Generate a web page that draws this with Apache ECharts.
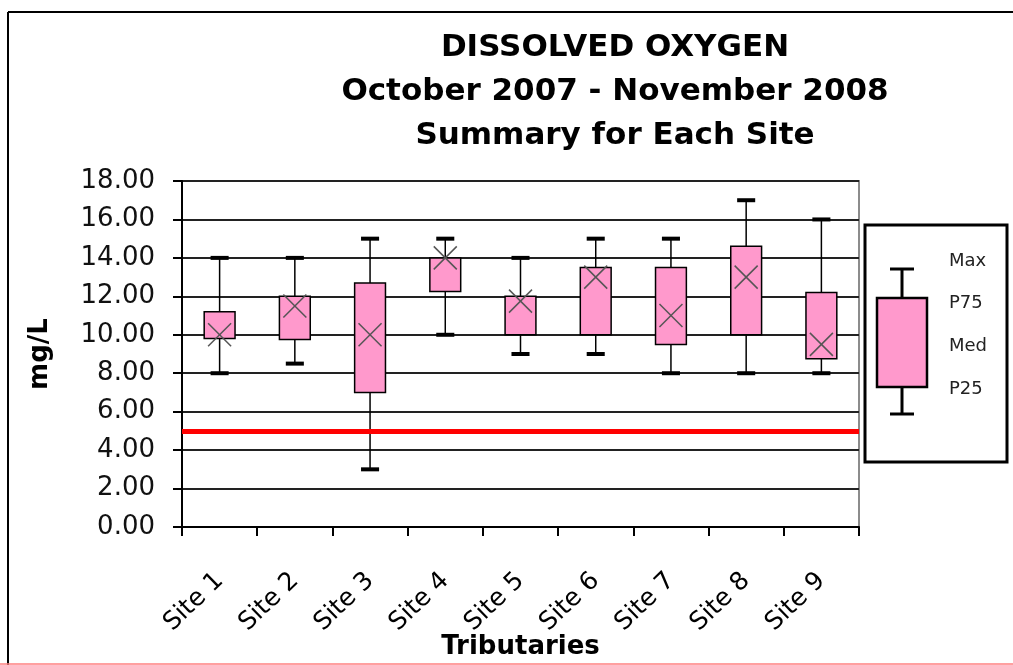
<!DOCTYPE html>
<html>
<head>
<meta charset="utf-8">
<title>Dissolved Oxygen</title>
<script src="https://cdn.jsdelivr.net/npm/echarts@6/dist/echarts.min.js"></script>
<style>
  html, body { margin: 0; padding: 0; background: #fff; }
  #chart { width: 1013px; height: 665px; }
</style>
</head>
<body>
<div id="chart"></div>
<script>
// box plot summary per site, mg/L
const sites = ['Site 1', 'Site 2', 'Site 3', 'Site 4', 'Site 5', 'Site 6', 'Site 7', 'Site 8', 'Site 9'];
const minVals = [8, 8.5, 3, 10, 9, 9, 8, 8, 8];
const p25Vals = [9.8, 9.75, 7, 12.25, 10, 10, 9.5, 10, 8.75];
const medVals = [10, 11.5, 10, 14, 11.75, 13, 11, 13, 9.5];
const p75Vals = [11.2, 12, 12.7, 14, 12, 13.5, 13.5, 14.6, 12.2];
const maxVals = [14, 14, 15, 15, 14, 15, 15, 17, 16];
const standardLine = 5;
const legendLabels = ['Max', 'P75', 'Med', 'P25'];

const FONT = '"DejaVu Sans", "Liberation Sans", Arial, sans-serif';
const PINK = '#ff99cc';

const boxData = sites.map((s, i) => [i, minVals[i], p25Vals[i], medVals[i], p75Vals[i], maxVals[i]]);

function renderBox(params, api) {
  const i = api.value(0);
  const xc = api.coord([i, 0])[0];
  const yMin = api.coord([i, api.value(1)])[1];
  const yQ1 = api.coord([i, api.value(2)])[1];
  const yMed = api.coord([i, api.value(3)])[1];
  const yQ3 = api.coord([i, api.value(4)])[1];
  const yMax = api.coord([i, api.value(5)])[1];
  const catW = api.size([1, 0])[0];
  const bw = catW * 0.41;
  const cw = catW * 0.24;
  const xs = 11.5;
  return {
    type: 'group',
    children: [
      { type: 'line', shape: { x1: xc, y1: yMax, x2: xc, y2: yMin }, style: { stroke: '#000', lineWidth: 1.5 } },
      { type: 'line', shape: { x1: xc - cw / 2, y1: yMax, x2: xc + cw / 2, y2: yMax }, style: { stroke: '#000', lineWidth: 4 } },
      { type: 'line', shape: { x1: xc - cw / 2, y1: yMin, x2: xc + cw / 2, y2: yMin }, style: { stroke: '#000', lineWidth: 4 } },
      { type: 'rect', shape: { x: xc - bw / 2, y: yQ3, width: bw, height: yQ1 - yQ3 }, style: { fill: PINK, stroke: '#000', lineWidth: 1.5 } },
      { type: 'line', shape: { x1: xc - xs, y1: yMed - xs, x2: xc + xs, y2: yMed + xs }, style: { stroke: '#555', lineWidth: 1.5 } },
      { type: 'line', shape: { x1: xc - xs, y1: yMed + xs, x2: xc + xs, y2: yMed - xs }, style: { stroke: '#555', lineWidth: 1.5 } }
    ]
  };
}

const chart = echarts.init(document.getElementById('chart'));
chart.setOption({
  backgroundColor: '#fff',
  animation: false,
  title: {
    text: 'DISSOLVED OXYGEN\nOctober 2007 - November 2008\nSummary for Each Site',
    left: 610,
    top: 21,
    textAlign: 'center',
    textStyle: { fontFamily: FONT, fontSize: 31, fontWeight: 'bold', color: '#000', lineHeight: 44 }
  },
  grid: {
    left: 182, right: 154, top: 181, bottom: 138,
    outerBoundsMode: 'none',
    show: true, borderColor: '#8c8c8c', borderWidth: 2, backgroundColor: '#fff'
  },
  xAxis: {
    type: 'category',
    data: sites,
    name: 'Tributaries',
    nameLocation: 'middle',
    nameGap: 107,
    nameMoveOverlap: false,
    nameTextStyle: { fontFamily: FONT, fontSize: 26, fontWeight: 'bold', color: '#000' },
    axisLine: { lineStyle: { color: '#000', width: 2 } },
    axisTick: { show: true, length: 9, lineStyle: { color: '#000', width: 2 } },
    axisLabel: { rotate: 44, margin: 50, fontFamily: FONT, fontSize: 25, color: '#000' },
    splitLine: { show: false }
  },
  yAxis: {
    type: 'value',
    min: 0,
    max: 18,
    interval: 2,
    name: 'mg/L',
    nameLocation: 'middle',
    nameRotate: 90,
    nameGap: 129,
    nameTextStyle: { fontFamily: FONT, fontSize: 26, fontWeight: 'bold', color: '#000' },
    axisLine: { show: true, lineStyle: { color: '#000', width: 2 } },
    axisTick: { show: true, length: 9, lineStyle: { color: '#000', width: 2 } },
    axisLabel: { margin: 27, fontFamily: FONT, fontSize: 26, color: '#111', formatter: v => v.toFixed(2) },
    splitLine: { lineStyle: { color: '#222', width: 2 } }
  },
  series: [{
    type: 'custom',
    renderItem: renderBox,
    data: boxData,
    encode: { x: 0, y: [1, 2, 3, 4, 5] },
    z: 3,
    markLine: {
      silent: true,
      symbol: 'none',
      label: { show: false },
      lineStyle: { color: '#ff0000', width: 5, type: 'solid' },
      data: [{ yAxis: standardLine }]
    }
  }],
  graphic: [
    // outer frame
    { type: 'line', shape: { x1: 8, y1: 12, x2: 1013, y2: 12 }, style: { stroke: '#000', lineWidth: 2 } },
    { type: 'line', shape: { x1: 8, y1: 12, x2: 8, y2: 665 }, style: { stroke: '#000', lineWidth: 2 } },
    { type: 'line', shape: { x1: 0, y1: 664, x2: 1013, y2: 664 }, style: { stroke: '#ff8080', lineWidth: 1.5 } },
    // legend key
    { type: 'rect', shape: { x: 865, y: 225, width: 142, height: 237 }, style: { fill: '#fff', stroke: '#000', lineWidth: 3 } },
    { type: 'line', shape: { x1: 902, y1: 269, x2: 902, y2: 414 }, style: { stroke: '#000', lineWidth: 3 } },
    { type: 'line', shape: { x1: 890, y1: 269, x2: 914, y2: 269 }, style: { stroke: '#000', lineWidth: 3 } },
    { type: 'line', shape: { x1: 890, y1: 414, x2: 914, y2: 414 }, style: { stroke: '#000', lineWidth: 3 } },
    { type: 'rect', shape: { x: 877, y: 298, width: 50, height: 89 }, style: { fill: PINK, stroke: '#000', lineWidth: 2.5 } },
    ...legendLabels.map((t, k) => ({
      type: 'text',
      left: 949,
      top: [263, 305, 348, 391][k] - 11,
      style: { text: t, fontFamily: FONT, fontSize: 18, fill: '#222' }
    }))
  ]
});
window.addEventListener('resize', () => chart.resize());
</script>
</body>
</html>
